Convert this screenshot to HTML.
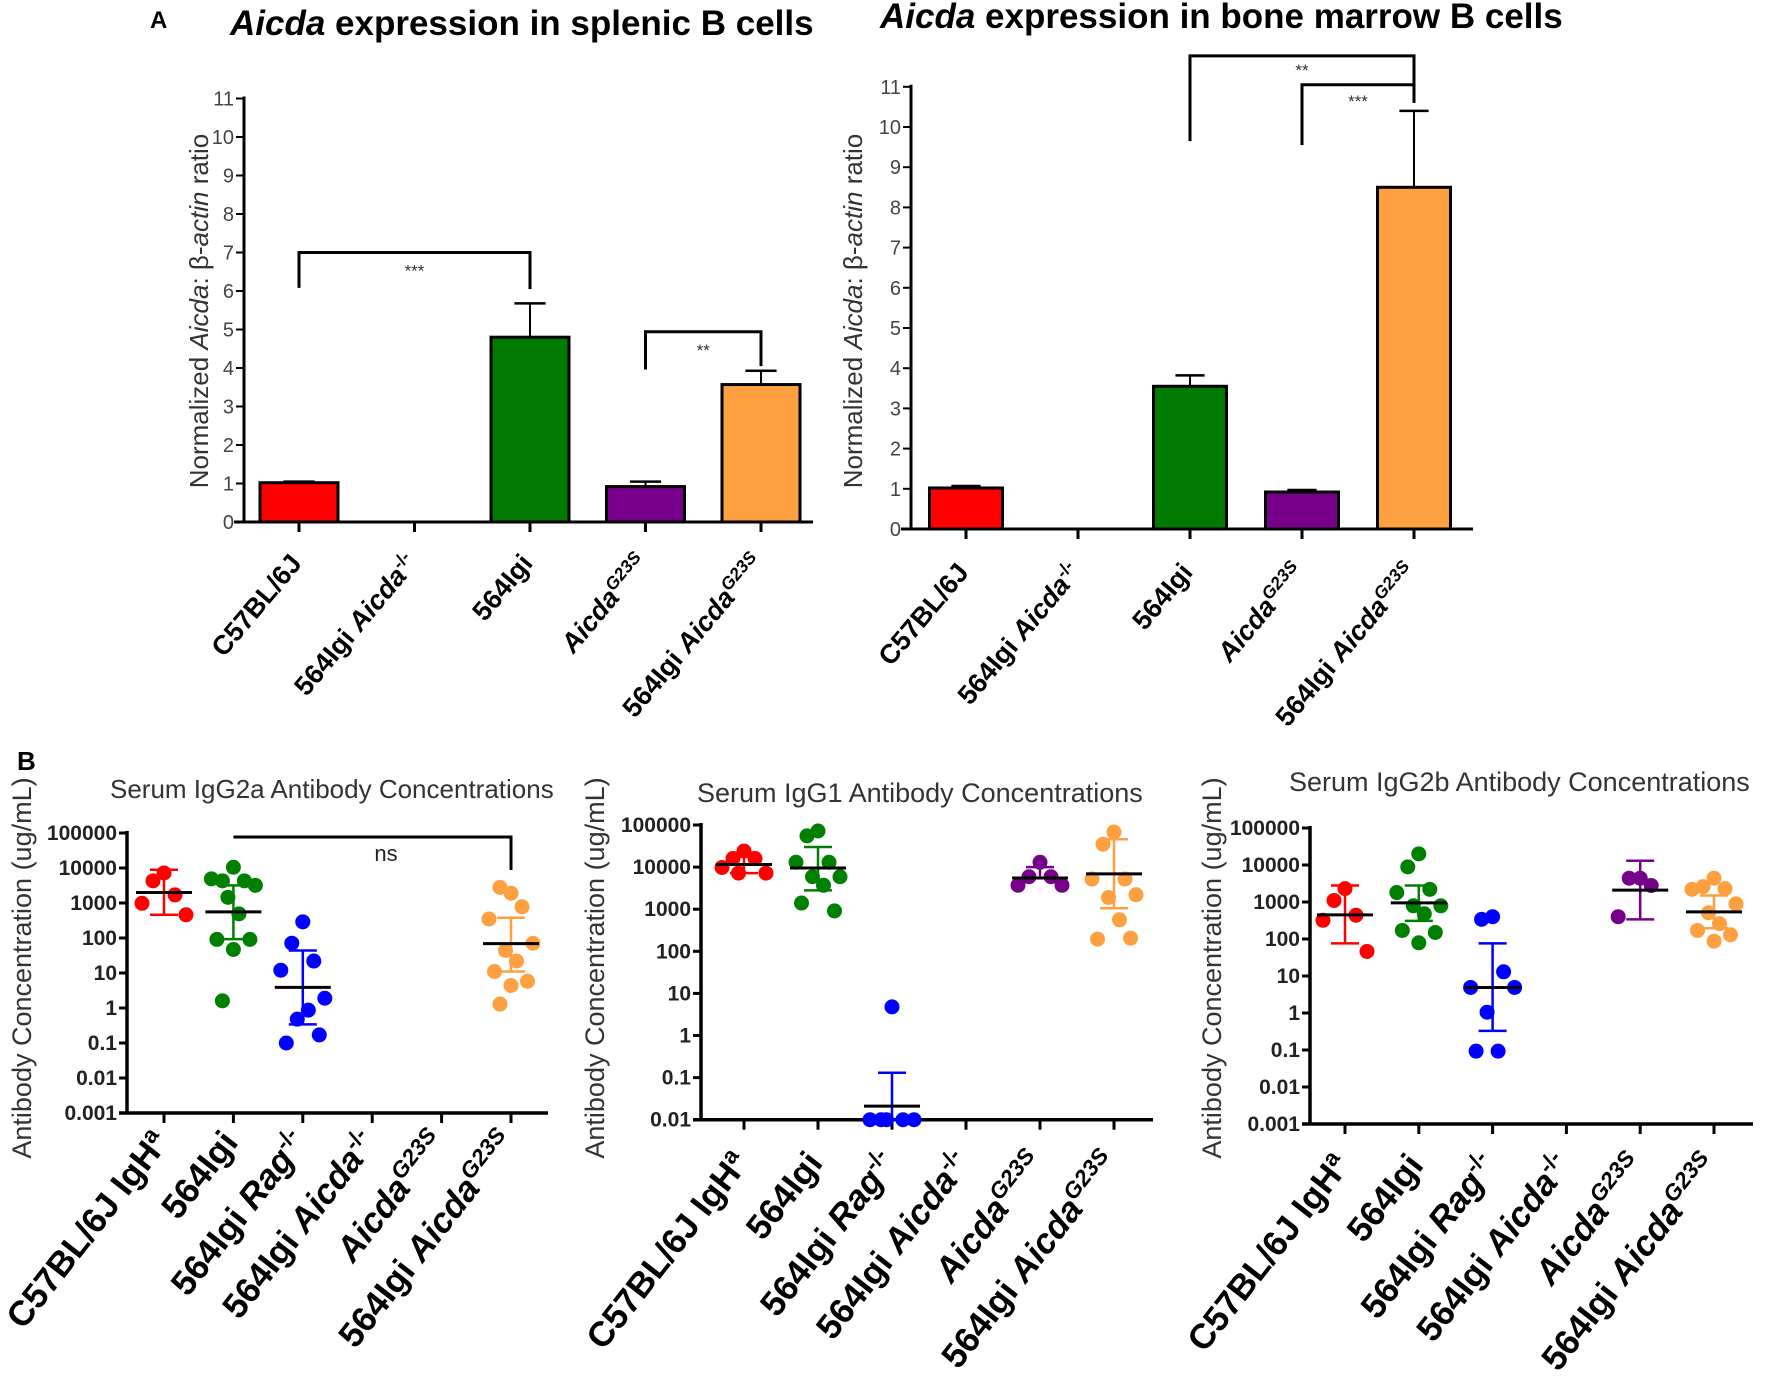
<!DOCTYPE html>
<html><head><meta charset="utf-8"><style>
html,body{margin:0;padding:0;background:#fff;}
svg{display:block;font-family:"Liberation Sans",Arial,sans-serif;}
</style></head><body>
<svg id="fig" width="1772" height="1383" viewBox="0 0 1772 1383" xmlns="http://www.w3.org/2000/svg">
<text x="150" y="28" font-size="24" font-weight="bold">A</text>
<text x="17" y="770" font-size="26" font-weight="bold">B</text>
<text x="230" y="35" font-size="35" font-weight="bold"><tspan font-style="italic">Aicda</tspan> expression in splenic B cells</text>
<text x="880" y="28" font-size="35" font-weight="bold"><tspan font-style="italic">Aicda</tspan> expression in bone marrow B cells</text>
<text transform="translate(208,311) rotate(-90)" text-anchor="middle" font-size="26" fill="#333">Normalized <tspan font-style="italic">Aicda</tspan>: β-<tspan font-style="italic">actin</tspan> ratio</text>
<text transform="translate(862,311) rotate(-90)" text-anchor="middle" font-size="26" fill="#333">Normalized <tspan font-style="italic">Aicda</tspan>: β-<tspan font-style="italic">actin</tspan> ratio</text>
<text x="110" y="798" font-size="26" fill="#333">Serum IgG2a Antibody Concentrations</text>
<rect x="558" y="765" width="20" height="45" fill="#fff"/>
<text x="697" y="802" font-size="27" fill="#333">Serum IgG1 Antibody Concentrations</text>
<text x="1289" y="791" font-size="27" fill="#333">Serum IgG2b Antibody Concentrations</text>
<text transform="translate(31,968) rotate(-90)" text-anchor="middle" font-size="27" fill="#333">Antibody Concentration (ug/mL)</text>
<text transform="translate(604,968) rotate(-90)" text-anchor="middle" font-size="27" fill="#333">Antibody Concentration (ug/mL)</text>
<text transform="translate(1221,968) rotate(-90)" text-anchor="middle" font-size="27" fill="#333">Antibody Concentration (ug/mL)</text>
</svg>
<script>
// ---- Panel A data ----
const barCategories = ["C57BL/6J","564Igi Aicda-/-","564Igi","AicdaG23S","564Igi AicdaG23S"];
const splenicValues = [1.02, 0, 4.8, 0.92, 3.57];
const splenicErrors = [1.05, 0, 5.68, 1.05, 3.93];
const marrowValues = [1.02, 0, 3.55, 0.92, 8.5];
const marrowErrors = [1.07, 0, 3.82, 0.97, 10.4];
const barTicks = [0,1,2,3,4,5,6,7,8,9,10,11];
const barColors = ["#ff0000","#ff0000","#007a00","#76008a","#ffa040"];
// ---- Panel B data ----
const scatterColors = ["#ff0000","#008000","#0000ff","#000","#76008a","#ffa040"];
const igg2aPoints = [[7200,4300,1700,980,460],[10500,4300,4300,4900,3200,1450,490,91,91,47,1.6],[290,71,22,12,1.9,0.48,0.87,0.1,0.17],[],[],[1900,2800,780,350,71,44,22,11,5.8,4.4,1.3]];
const igg2aMean = [2000,560,3.9,null,null,69];
const igg2aHigh = [8900,3200,44,null,null,380];
const igg2aLow = [460,93,0.34,null,null,11];
const igg1Points = [[24000,16000,16000,9800,7200,7200],[72000,55000,13000,13000,5900,5900,3700,1400,910],[4.8,0.01,0.01,0.01,0.01,0.01],[],[13000,5900,5900,3700,3700],[68000,35000,5200,5200,2200,1900,560,195,205]];
const igg1Mean = [11500,9500,0.021,null,5500,6900];
const igg1High = [22000,30000,0.13,null,10000,46000];
const igg1Low = [7200,2800,0.01,null,5500,1050];
const igg2bPoints = [[2300,1100,440,320,46],[20000,8900,2200,1800,790,790,480,170,150,79],[400,340,13,4.9,4.9,1.05,0.093,0.093],[],[4400,4400,2800,400],[4400,2600,2300,2200,890,510,260,170,130,87]];
const igg2bMean = [450,950,4.9,null,2100,540];
const igg2bHigh = [2800,2800,76,null,13000,1500];
const igg2bLow = [76,310,0.33,null,340,195];
const logTicks8 = ["0.001","0.01","0.1","1","10","100","1000","10000","100000"];
const logTicks7 = ["0.01","0.1","1","10","100","1000","10000","100000"];

const svg = document.getElementById('fig');
const NS = "http://www.w3.org/2000/svg";
function mk(tag, attrs, parent){ const e=document.createElementNS(NS,tag); for(const k in attrs) e.setAttribute(k,attrs[k]); (parent||svg).appendChild(e); return e; }
function line(x1,y1,x2,y2,w,c,g){ return mk('line',{x1,y1,x2,y2,stroke:c||'#000','stroke-width':w||3},g); }

function barLabel(g, name, x, y, fs, ang){
  const t = mk('text',{transform:`translate(${x},${y}) rotate(${-ang})`,'text-anchor':'end','font-size':fs,'font-weight':'bold'},g);
  
  
  const parts = {"C57BL/6J":[["C57BL/6J",0]],"564Igi Aicda-/-":[["564Igi ",0],["Aicda",1],["-/-",2]],"564Igi":[["564Igi",0]],"AicdaG23S":[["Aicda",1],["G23S",3]],"564Igi AicdaG23S":[["564Igi ",0],["Aicda",1],["G23S",3]],
   "C57BL/6J IgHa":[["C57BL/6J IgH",0],["a",4]],"564Igi Rag-/-":[["564Igi ",0],["Rag",1],["-/-",2]]}[name];
  parts.forEach(p=>{ const s=mk('tspan',{},t); s.textContent=p[0];
    if(p[1]===1||p[1]===3) s.setAttribute('font-style','italic');
    if(p[1]>=2){ s.setAttribute('baseline-shift','super'); s.setAttribute('font-size',fs*0.65); } });
}

function barChart(o){
  const g = mk('g',{});  
  const yS = v => o.y0 - v*o.unit;
  const xS = i => o.cx0 + i*o.step;
  barTicks.forEach(t=>{ line(o.ax-8,yS(t),o.ax,yS(t),2,'#000',g);
    const tx=mk('text',{x:o.ax-10,y:yS(t)+7,'text-anchor':'end','font-size':20,fill:'#444'},g); tx.textContent=t;
      });
  o.values.forEach((v,i)=>{
    const cx=xS(i);
    if(v>0){
      line(cx,yS(v),cx,yS(o.errs[i]),2,'#000',g);
      line(cx-o.bw*0.2,yS(o.errs[i]),cx+o.bw*0.2,yS(o.errs[i]),2.5,'#000',g);
      const r=mk('rect',{x:cx-o.bw/2,y:yS(v),width:o.bw,height:yS(0)-yS(v),fill:barColors[i],stroke:'#000','stroke-width':3},g);
      
      
    }
    line(cx,yS(0),cx,yS(0)+10,3,'#000',g);
    barLabel(g, barCategories[i], cx+4, o.y0+o.labDy, 27, 50);
  });
  line(o.ax,yS(11)-2,o.ax,yS(0)+1.5,3,'#000',g);
  line(o.ax-10,yS(0),o.xEnd,yS(0),3,'#000',g);
  o.brackets.forEach(b=>{
    const p=mk('path',{d:`M${xS(b[0])},${yS(b[2])} V${yS(b[4])} H${xS(b[1])} V${yS(b[3])}`,fill:'none',stroke:'#000','stroke-width':3},g);
     
    const t=mk('text',{x:(xS(b[0])+xS(b[1]))/2,y:yS(b[4])+b[6],'text-anchor':'middle','font-size':17,fill:'#333'},g); t.textContent=b[5];
     
  });
}
barChart({name:'splenic-bar-chart',ax:244,y0:522,unit:38.5,cx0:299,step:115.5,bw:78,xEnd:813,values:splenicValues,errs:splenicErrors,labDy:42,
  brackets:[[0,2,6.08,6.05,7.0,'***',24],[3,4,3.96,4.05,4.94,'**',24]]});
barChart({name:'bone-marrow-bar-chart',ax:911,y0:529,unit:40.2,cx0:966,step:112,bw:73,xEnd:1473,values:marrowValues,errs:marrowErrors,labDy:44,
  brackets:[[2,4,9.65,10.6,11.77,'**',20],[3,4,9.55,10.6,11.05,'***',22]]});

const scatterCats = ["C57BL/6J IgHa","564Igi","564Igi Rag-/-","564Igi Aicda-/-","AicdaG23S","564Igi AicdaG23S"];
function scatter(o){
  const g = mk('g',{});  
  const yS = v => o.yTop + (5-Math.log10(v))*o.dec;
  const xS = i => o.cx0 + i*o.step;
  const yBot = yS(Math.pow(10,5-o.ticks.length+1));
  o.ticks.forEach(t=>{ const y=yS(parseFloat(t)); line(o.ax-8,y,o.ax,y,3,'#000',g);
    const tx=mk('text',{x:o.ax-10,y:y+7,'text-anchor':'end','font-size':21,'font-weight':'bold',fill:'#222'},g); tx.textContent=t;
      });
  line(o.ax,yS(100000)-2,o.ax,yBot+1.5,3.5,'#000',g);
  line(o.ax-8,yBot,o.xEnd,yBot,3.5,'#000',g);
  const jit=[0,-1,1,-2,2,-0.5,0.5,-1.5,1.5,0,-1,1];
  o.points.forEach((arr,i)=>{
    const cx=xS(i);
    line(cx,yBot,cx,yBot+10,3,'#000',g);
    barLabel(g, scatterCats[i], cx+6, yBot+o.labDy, 35, 52);
    arr.forEach((v,j)=>{ const c=mk('circle',{cx:cx+jit[j%jit.length]*11,cy:yS(v),r:7.5,fill:scatterColors[i]},g);
        });
    if(o.mean[i]!=null){
      line(cx,yS(o.high[i]),cx,yS(o.low[i]),2.5,scatterColors[i],g);
      line(cx-14,yS(o.high[i]),cx+14,yS(o.high[i]),2.5,scatterColors[i],g);
      line(cx-14,yS(o.low[i]),cx+14,yS(o.low[i]),2.5,scatterColors[i],g);
      const m=line(cx-28,yS(o.mean[i]),cx+28,yS(o.mean[i]),3,'#000',g);
       
    }
  });
  if(o.ns){ const p=mk('path',{d:`M${xS(1)},${yS(100000)+4} H${xS(5)} V${yS(10000)+2}`,fill:'none',stroke:'#000','stroke-width':3},g);
     
    const t=mk('text',{x:386,y:yS(100000)+28,'text-anchor':'middle','font-size':22,fill:'#222'},g); t.textContent='ns';
      }
}
scatter({name:'igg2a-chart',ax:127,yTop:833,dec:35,cx0:164,step:69.4,xEnd:548,ticks:logTicks8,points:igg2aPoints,mean:igg2aMean,high:igg2aHigh,low:igg2aLow,labDy:30,ns:true});
scatter({name:'igg1-chart',ax:701,yTop:825,dec:42.1,cx0:744,step:74,xEnd:1153,ticks:logTicks7,points:igg1Points,mean:igg1Mean,high:igg1High,low:igg1Low,labDy:44});
scatter({name:'igg2b-chart',ax:1310,yTop:828,dec:37,cx0:1345,step:73.8,xEnd:1753,ticks:logTicks8,points:igg2bPoints,mean:igg2bMean,high:igg2bHigh,low:igg2bLow,labDy:42});
</script>
</body></html>
